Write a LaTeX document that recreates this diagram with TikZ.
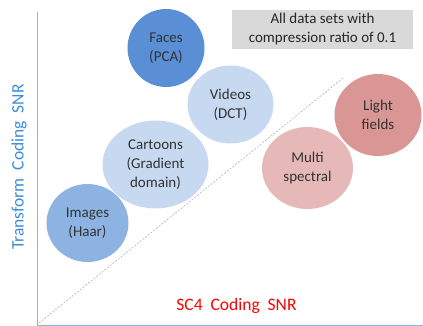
\documentclass[tikz,border=0pt]{standalone}
\usepackage{fontspec}
\setmainfont{Carlito}
\usetikzlibrary{arrows,shapes.geometric}

\definecolor{facesblue}{HTML}{5A8ED5}
\definecolor{imgblue}{HTML}{8DB3E2}
\definecolor{paleblue}{HTML}{C6D9F1}
\definecolor{darkrose}{HTML}{D99694}
\definecolor{palerose}{HTML}{E6B9B8}
\definecolor{axisblue}{HTML}{8DB3E2}
\definecolor{labelblue}{HTML}{3C8DD8}

\begin{document}
\begin{tikzpicture}[x=1pt, y=-1pt,
		blob/.style={ellipse, inner sep=0pt, align=center, text=black!80,
			font=\fontsize{15}{19}\selectfont},
		axislabel/.style={font=\fontsize{17.5}{20}\selectfont},
		axis/.style={axisblue, line width=0.9pt},
		>=latex']
	\useasboundingbox (0,0) rectangle (423,326);
	% axes
	\coordinate (origin) at (37,325);
	\coordinate (ytop) at (37,12);
	\coordinate (xend) at (423,325);
	\draw[axis] (ytop) -- (origin) -- (xend);
	\coordinate (diagA) at (39,323);
	\coordinate (diagB) at (343,78);
	\draw[gray!70, line width=0.5pt, dash pattern=on 2pt off 1.5pt] (diagA) -- (diagB);
	% data sets
	\foreach \name/\x/\y/\w/\h/\col/\txt in {
			faces/166/48/77/78/facesblue/{Faces\\(PCA)},
			videos/230.5/104.5/86/78/paleblue/{Videos\\(DCT)},
			cartoons/155.5/164.5/106/88/paleblue/{Cartoons\\(Gradient\\domain)},
			images/87.5/223/82/78/imgblue/{Images\\(Haar)},
			light/378/115/87/82/darkrose/{Light\\fields},
			multi/307.5/168/91/82/palerose/{Multi\\spectral}}
		\node[blob, fill=\col, minimum width=\w pt, minimum height=\h pt] (\name) at (\x,\y) {\txt};
	\node[fill=black!15, minimum width=181pt, minimum height=39pt, inner sep=0pt, text=black!85,
		align=center, font=\fontsize{15}{19}\selectfont] (note) at (322.5,29.5)
		{All data sets with\\compression ratio of 0.1};
	\node[axislabel, rotate=90, text=labelblue] (ylabel) at (19,167)
		{Transform\ \ Coding\ \ SNR};
	\node[axislabel, text=red] (xlabel) at (236.5,306)
		{SC4\ \ Coding\ \ SNR};
\end{tikzpicture}
\end{document}
